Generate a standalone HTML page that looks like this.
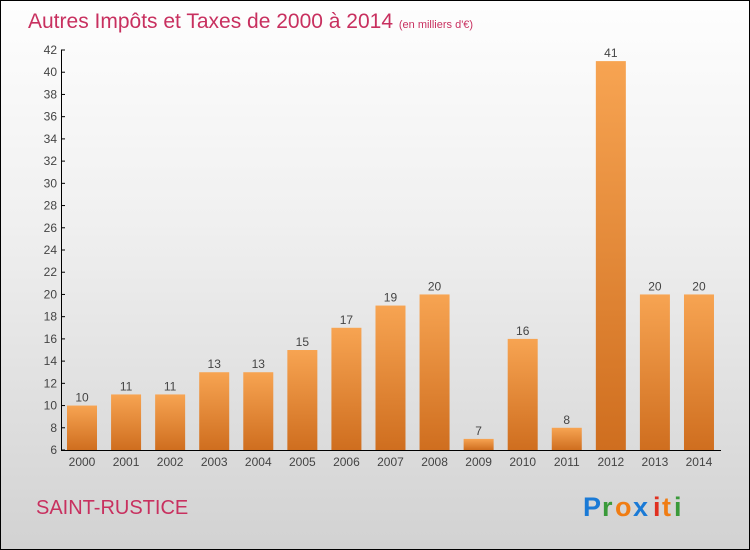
<!DOCTYPE html>
<html><head><meta charset="utf-8"><style>
body{margin:0;width:750px;height:550px;overflow:hidden}
#wrap{position:absolute;left:0;top:0;width:748px;height:548px;border:1px solid #000;background:linear-gradient(#fefefe,#f0f0f0 40%,#d2d2d2);font-family:"Liberation Sans",sans-serif}
</style></head><body>
<div id="wrap">
<svg id="svg" width="750" height="550" style="position:absolute;left:-1px;top:-1px">
<defs><linearGradient id="bg" x1="0" y1="0" x2="0" y2="1"><stop offset="0" stop-color="#f7a452"/><stop offset="1" stop-color="#cf6e1f"/></linearGradient></defs>
<text x="28" y="28" font-size="21" fill="#c8305f">Autres Impôts et Taxes de 2000 à 2014 <tspan font-size="11">(en milliers d'€)</tspan></text>
<text x="36" y="514" font-size="20" fill="#c8305f">SAINT-RUSTICE</text>
<g font-size="27" font-weight="bold">
<text x="583" y="516" fill="#1a7ad6">P</text><text x="602" y="516" fill="#3a9a3a">r</text><text x="615" y="516" fill="#f07d14">o</text><text x="633" y="516" fill="#1a7ad6">x</text><text x="653" y="516" fill="#e03020">i</text><text x="662" y="516" fill="#f07d14">t</text><text x="674" y="516" fill="#3a9a3a">i</text></g>
<g id="plot"></g>
</svg></div>
<script>
const years=["2000","2001","2002","2003","2004","2005","2006","2007","2008","2009","2010","2011","2012","2013","2014"];
const values=[10,11,11,13,13,15,17,19,20,7,16,8,41,20,20];
const yTicks=[6,8,10,12,14,16,18,20,22,24,26,28,30,32,34,36,38,40,42];
const NS="http://www.w3.org/2000/svg";
const g=document.getElementById('plot');
const y=v=>450-(v-6)*400/36;
const x=i=>82+i*44.07;
function mk(t,a,txt){const e=document.createElementNS(NS,t);for(const k in a)e.setAttribute(k,a[k]);if(txt!=null)e.textContent=txt;g.appendChild(e);return e;}
years.forEach((yr,i)=>{
 const r=mk('rect',{x:x(i)-15,y:y(values[i]),width:30,height:450-y(values[i]),fill:'url(#bg)'});
 
 
 const l=mk('text',{x:x(i),y:y(values[i])-4,'font-size':12,fill:'#444','text-anchor':'middle'},values[i]);
 
 
 const t=mk('text',{x:x(i),y:466,'font-size':12,fill:'#444','text-anchor':'middle'},yr);
 
 
});
yTicks.forEach(v=>{
 const t=mk('text',{x:57,y:y(v)+4,'font-size':12,fill:'#444','text-anchor':'end'},v);
 
 
 const k=mk('line',{x1:61,x2:65,y1:y(v),y2:y(v),stroke:'#000'});
 
 
});
const ya=mk('line',{x1:61.5,x2:61.5,y1:y(42),y2:450,stroke:'#000'});


const xa=mk('line',{x1:61,x2:721,y1:450.5,y2:450.5,stroke:'#000'});


</script>
</body></html>
